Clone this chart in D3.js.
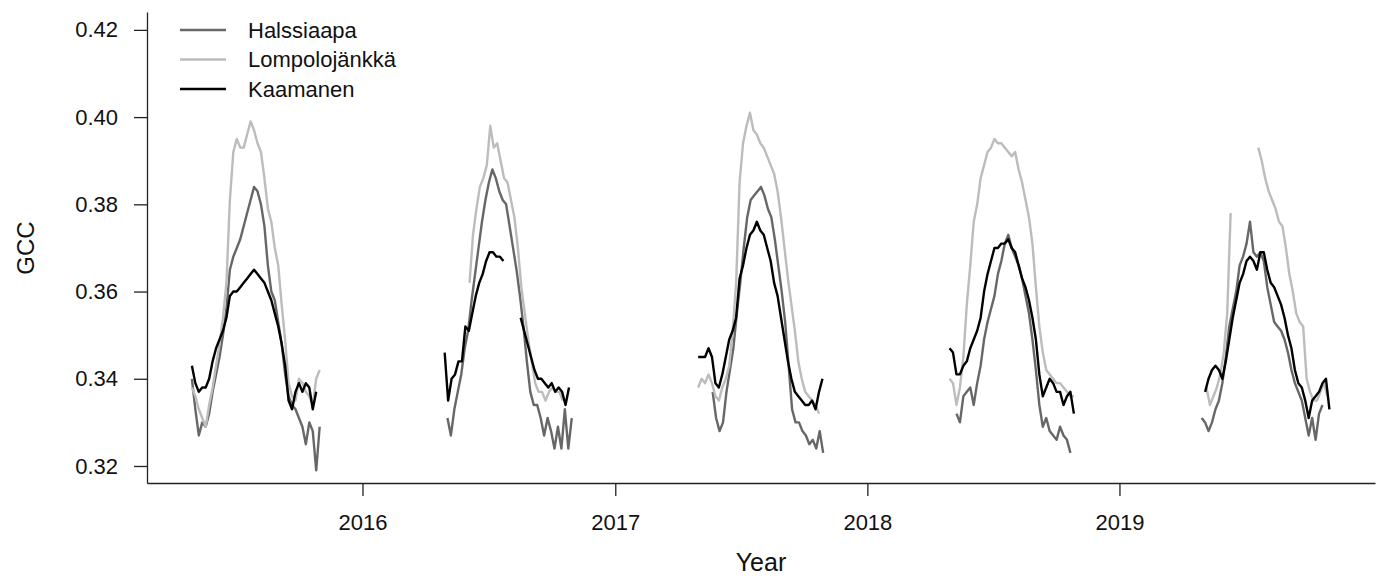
<!DOCTYPE html>
<html>
<head>
  <meta charset="utf-8">
  <style>
    body{
      margin:0;
      background:#fff;
    }

    svg text{
      font-family: "Liberation Sans", Arial, sans-serif;
      fill:#111;
    }

    .axis path, .axis line{
      stroke:#222;
      stroke-width:1.3;
    }
  </style>
  <script src="https://cdn.jsdelivr.net/npm/d3@7"></script>
</head>
<body>
<svg id="chart" width="1376" height="578"></svg>
<script>
// sites, in legend order
const sites = ['Halssiaapa', 'Lompolojänkkä', 'Kaamanen'];
const siteColours = ['#676767', '#bcbcbc', '#000000'];
const years = [2015, 2016, 2017, 2018, 2019];
const stepDays = 5;

// tick labels
const yTicks = [0.32, 0.34, 0.36, 0.38, 0.40, 0.42];
const xTickYears = [2016, 2017, 2018, 2019];

// first day of year of each season's record, one per year
const halStart = [118, 123, 141, 129, 119];
const lomStart = [118, 155, 120, 119, 126];
const kaaStart = [118, 119, 120, 119, 124];

// GCC every 5 days, null = no data
const hal2015 = [0.340,0.333,0.327,0.330,0.329,0.332,0.337,0.341,0.345,0.350,0.356,0.365,0.368,0.370,0.372,0.375,0.378,0.381,0.384,0.383,0.380,0.375,0.366,0.360,0.358,0.353,0.348,0.341,0.336,0.334,0.333,0.331,0.329,0.325,0.330,0.328,0.319,0.329];
const hal2016 = [0.331,0.327,0.333,0.337,0.341,0.347,0.351,0.358,0.364,0.370,0.376,0.381,0.385,0.388,0.386,0.383,0.381,0.380,0.375,0.370,0.365,0.359,0.352,0.344,0.337,0.334,0.334,0.331,0.327,0.331,0.328,0.324,0.329,0.324,0.333,0.324,0.331];
const hal2017 = [0.337,0.331,0.328,0.330,0.337,0.342,0.347,0.355,0.362,0.370,0.377,0.381,0.382,0.383,0.384,0.382,0.379,0.377,0.372,0.366,0.360,0.353,0.343,0.333,0.330,0.330,0.328,0.327,0.325,0.326,0.324,0.328,0.323];
const hal2018 = [0.332,0.330,0.336,0.337,0.338,0.334,0.339,0.343,0.349,0.353,0.356,0.359,0.364,0.367,0.371,0.373,0.370,0.368,0.366,0.363,0.359,0.355,0.349,0.342,0.334,0.329,0.331,0.328,0.327,0.326,0.329,0.327,0.326,0.323];
const hal2019 = [0.331,0.330,0.328,0.330,0.333,0.335,0.339,0.345,0.352,0.356,0.360,0.366,0.368,0.371,0.376,0.369,0.368,0.369,0.367,0.361,0.357,0.353,0.352,0.351,0.349,0.346,0.342,0.339,0.337,0.335,0.331,0.327,0.331,0.326,0.332,0.334];

const lom2015 = [0.338,0.336,0.333,0.331,0.329,0.334,0.338,0.343,0.348,0.354,0.362,0.381,0.392,0.395,0.393,0.393,0.396,0.399,0.397,0.394,0.392,0.386,0.379,0.376,0.370,0.366,0.357,0.349,0.339,0.336,0.335,0.340,0.339,0.337,0.336,0.334,0.340,0.342];
const lom2016 = [0.362,0.373,0.379,0.384,0.386,0.389,0.398,0.393,0.394,0.390,0.386,0.385,0.381,0.377,0.370,0.361,0.355,0.349,0.344,0.339,0.337,0.337,0.335,0.337,0.338,0.337,0.337,0.335];
const lom2017 = [0.338,0.340,0.339,0.341,0.339,0.336,0.335,0.338,0.340,0.343,0.351,0.362,0.385,0.394,0.398,0.401,0.397,0.396,0.394,0.393,0.391,0.389,0.387,0.383,0.377,0.370,0.363,0.357,0.351,0.344,0.340,0.337,0.336,0.335,0.334,0.332];
const lom2018 = [0.340,0.339,0.334,0.338,0.345,0.357,0.366,0.376,0.380,0.386,0.389,0.392,0.393,0.395,0.394,0.394,0.393,0.392,0.391,0.392,0.388,0.385,0.381,0.377,0.371,0.361,0.352,0.346,0.342,0.341,0.340,0.339,0.339,0.338,0.337,0.336,0.336];
const lom2019 = [0.338,0.334,0.336,0.338,0.341,0.346,0.355,0.378,null,null,null,null,null,null,null,0.393,0.390,0.386,0.383,0.381,0.379,0.376,0.375,0.370,0.364,0.360,0.355,0.353,0.352,0.340,0.337,0.335,0.335,0.337,0.339,0.336];

const kaa2015 = [0.343,0.339,0.337,0.338,0.338,0.340,0.344,0.347,0.349,0.351,0.354,0.359,0.360,0.360,0.361,0.362,0.363,0.364,0.365,0.364,0.363,0.362,0.360,0.358,0.355,0.352,0.348,0.343,0.335,0.333,0.337,0.339,0.337,0.339,0.338,0.333,0.337];
const kaa2016 = [0.346,0.335,0.340,0.341,0.344,0.344,0.352,0.351,0.355,0.359,0.362,0.364,0.367,0.369,0.369,0.368,0.368,0.367,null,null,null,null,0.354,0.351,0.348,0.345,0.342,0.340,0.340,0.339,0.338,0.339,0.337,0.338,0.337,0.334,0.338];
const kaa2017 = [0.345,0.345,0.345,0.347,0.345,0.339,0.338,0.341,0.345,0.349,0.351,0.354,0.363,0.366,0.370,0.373,0.374,0.376,0.374,0.373,0.370,0.367,0.362,0.359,0.354,0.349,0.344,0.340,0.337,0.336,0.335,0.334,0.334,0.335,0.333,0.337,0.340];
const kaa2018 = [0.347,0.346,0.341,0.341,0.343,0.344,0.347,0.349,0.351,0.354,0.360,0.364,0.367,0.370,0.370,0.371,0.371,0.372,0.370,0.369,0.366,0.363,0.361,0.358,0.354,0.349,0.341,0.336,0.338,0.340,0.339,0.337,0.337,0.334,0.336,0.337,0.332];
const kaa2019 = [0.337,0.340,0.342,0.343,0.342,0.340,0.344,0.349,0.354,0.358,0.362,0.364,0.367,0.368,0.367,0.365,0.369,0.369,0.365,0.362,0.361,0.359,0.357,0.354,0.350,0.347,0.342,0.339,0.338,0.335,0.331,0.335,0.336,0.337,0.339,0.340,0.333];

const halValues = [hal2015, hal2016, hal2017, hal2018, hal2019];
const lomValues = [lom2015, lom2016, lom2017, lom2018, lom2019];
const kaaValues = [kaa2015, kaa2016, kaa2017, kaa2018, kaa2019];

// one entry per site, each a list of seasons of {date, gcc}
const seriesData = [[halStart, halValues], [lomStart, lomValues], [kaaStart, kaaValues]]
  .map(([starts, values], s)=>({
    site: sites[s],
    colour: siteColours[s],
    seasons: years.map((year, i)=>values[i].map((v, j)=>({
      date: d3.timeDay.offset(new Date(year, 0, 1), starts[i] + j*stepDays),
      gcc: v
    })))
  }));

const svg = d3.select('#chart');

const x = d3.scaleTime()
  .domain([new Date(2015, 1, 23), new Date(2020, 0, 6)])
  .range([147, 1375]);

const y = d3.scaleLinear()
  .domain([0.3161, 0.4241])
  .range([483, 12]);

// axes, R style: left and bottom only
svg.append('g')
  .attr('class', 'axis')
  .attr('transform', 'translate(147,0)')
  .call(d3.axisLeft(y).tickValues(yTicks).tickFormat(d3.format('.2f')).tickSize(13).tickSizeOuter(0).tickPadding(16))
  .call(g=>g.selectAll('text').attr('font-size', 22).style('font-family', '"Liberation Sans", Arial, sans-serif'));

svg.append('g')
  .attr('class', 'axis')
  .attr('transform', 'translate(0,483)')
  .call(d3.axisBottom(x).tickValues(xTickYears.map(yr=>new Date(yr, 0, 1))).tickFormat(d3.timeFormat('%Y')).tickSize(13).tickSizeOuter(0).tickPadding(18))
  .call(g=>g.selectAll('text').attr('font-size', 22).style('font-family', '"Liberation Sans", Arial, sans-serif'));

// axis titles
svg.append('text')
  .attr('x', 761)
  .attr('y', 571)
  .attr('text-anchor', 'middle')
  .attr('font-size', 25)
  .text('Year');

svg.append('text')
  .attr('transform', 'translate(34,248) rotate(-90)')
  .attr('text-anchor', 'middle')
  .attr('font-size', 24)
  .text('GCC');

const line = d3.line()
  .defined(d=>d.gcc !== null)
  .x(d=>x(d.date))
  .y(d=>y(d.gcc));

svg.append('g')
  .selectAll('g')
  .data(seriesData)
  .enter()
    .append('g')
    .attr('stroke', d=>d.colour)
  .selectAll('path')
    .data(d=>d.seasons)
  .enter()
    .append('path')
    .attr('fill', 'none')
    .attr('stroke-width', 2.4)
    .attr('stroke-linejoin', 'round')
    .attr('d', line);

// legend
svg.append('g')
  .attr('transform', 'translate(180,30)')
  .selectAll('g')
    .data(seriesData)
  .enter()
    .append('g')
    .attr('transform', (d,i)=>`translate(0, ${i*29.5})`)
  .call(function(parent){
    parent.append('line')
      .attr('x1', 0)
      .attr('x2', 46)
      .attr('stroke', d=>d.colour)
      .attr('stroke-width', 2.5);

    parent.append('text')
      .attr('x', 68)
      .attr('dy', '0.35em')
      .attr('font-size', 22)
      .text(d=>d.site);
  });
</script>
</body>
</html>
